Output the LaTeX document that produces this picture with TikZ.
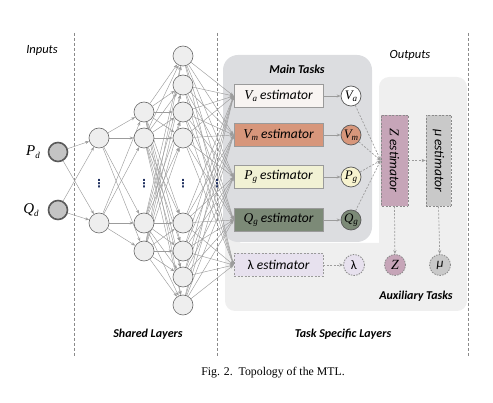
\documentclass[tikz,border=0pt]{standalone}
\usepackage{fontspec}
\setmainfont{Liberation Serif}
\newfontfamily\crl{Carlito}
\newfontfamily\tms{Liberation Serif}
\newfontfamily\djv{DejaVu Sans}
\newcommand\mvar[2]{{\tms\itshape #1}\raisebox{-0.35ex}{\tms\itshape\fontsize{9}{9}\selectfont #2}}
\usetikzlibrary{arrows.meta}
\pgfdeclarelayer{bglayer}
\pgfdeclarelayer{edgelayer}
\pgfsetlayers{bglayer,edgelayer,main}
\definecolor{hidfill}{HTML}{EEEEEE}
\definecolor{hiddraw}{HTML}{6A6A6A}
\definecolor{inpfill}{HTML}{C4C4C4}
\definecolor{inpdraw}{HTML}{5A5A5A}
\definecolor{nngray}{HTML}{9C9C9C}
\definecolor{maingray}{HTML}{DCDDE0}
\definecolor{auxgray}{HTML}{EFEFEF}
\definecolor{estdraw}{HTML}{9A9A9A}
\definecolor{vacol}{HTML}{F8F4F2}
\definecolor{vmcol}{HTML}{D7967B}
\definecolor{pgcol}{HTML}{F1F1D4}
\definecolor{pgcirc}{HTML}{F7F3CF}
\definecolor{qgcol}{HTML}{7C8A77}
\definecolor{zcol}{HTML}{C6A5B8}
\definecolor{mucol}{HTML}{C9C9C9}
\definecolor{lamcol}{HTML}{E7E1EE}
\definecolor{dotcol}{HTML}{1F2F5F}
\definecolor{sepgray}{HTML}{8A8A8A}
\begin{document}
\begin{tikzpicture}[x=1pt,y=-1pt,
  hid/.style={circle,minimum size=20pt,inner sep=0pt,fill=hidfill,draw=hiddraw,line width=0.6pt},
  inp/.style={circle,minimum size=19pt,inner sep=0pt,fill=inpfill,draw=inpdraw,line width=1.6pt},
  est/.style={rectangle,minimum width=89pt,minimum height=23pt,inner sep=0pt,draw=estdraw,line width=0.7pt,font=\fontsize{13.5}{13.5}\selectfont\crl\itshape},
  outc/.style={circle,minimum size=20pt,inner sep=0pt,draw=inpdraw,line width=0.7pt,font=\fontsize{13}{13}\selectfont},
  auxc/.style={circle,minimum size=21pt,inner sep=0pt,draw=sepgray,dashed,dash pattern=on 1.5pt off 1.2pt,line width=0.8pt,font=\fontsize{13}{13}\selectfont\crl\itshape},
  auxest/.style={rectangle,minimum width=91pt,minimum height=27pt,inner sep=0pt,draw=sepgray,dashed,dash pattern=on 2pt off 1.5pt,line width=0.7pt,font=\fontsize{13.5}{13.5}\selectfont\crl\itshape},
  nn/.style={draw=nngray,line width=0.45pt,-{Stealth[length=4pt,width=3pt]}},
  dsh/.style={draw=nngray,line width=0.7pt,dashed,dash pattern=on 2pt off 1.5pt,-{Stealth[length=4pt,width=3.2pt]}},
  sep/.style={draw=sepgray,line width=0.7pt,dashed,dash pattern=on 3pt off 2pt},
  lbl/.style={font=\fontsize{12.5}{12.5}\selectfont\crl\itshape},
  blbl/.style={font=\fontsize{12}{12}\selectfont\crl\bfseries\itshape},
  vd/.style={text=dotcol,inner sep=0pt,font=\fontsize{11}{11}\selectfont\djv\bfseries}
]
\useasboundingbox (0,0) rectangle (493,403);
% background regions
\begin{pgfonlayer}{bglayer}
\fill[auxgray,rounded corners=10pt] (225,225) [sharp corners] -- (240,225) -- (240,243) -- (379,243) [rounded corners=10pt] -- (379,77) -- (467,77) -- (467,311) -- (225,311) -- cycle;
\fill[maingray,rounded corners=15pt] (223,55) rectangle (372,242);
\coordinate (s1t) at (74,33); \coordinate (s1b) at (74,356);
\coordinate (s2t) at (217,33); \coordinate (s2b) at (217,356);
\coordinate (s3t) at (468,33); \coordinate (s3b) at (468,356);
\draw[sep] (s1t) -- (s1b);
\draw[sep] (s2t) -- (s2b);
\draw[sep] (s3t) -- (s3b);
\end{pgfonlayer}
% inputs
\node[inp] (pd) at (58,152) {};
\node[inp] (qd) at (58,210) {};
\node[font=\fontsize{15}{15}\selectfont] (pdl) at (33,152) {\mvar{P}{d}};
\node[font=\fontsize{15}{15}\selectfont] (qdl) at (31,210) {\mvar{Q}{d}};
% hidden layers
\node[hid] (a1) at (99,138) {};
\node[hid] (a2) at (99,223) {};
\node[hid] (b1) at (144,112) {};
\node[hid] (b2) at (144,138) {};
\node[hid] (b3) at (144,223) {};
\node[hid] (b4) at (144,251) {};
\foreach \i/\y in {1/56,2/85,3/112,4/138,5/223,6/251,7/277,8/305}
  \node[hid] (c\i) at (183,\y) {};
\node[vd] (d1) at (99,184) {⋮};
\node[vd] (d2) at (144,184) {⋮};
\node[vd] (d3) at (183,184) {⋮};
\node[vd] (d4) at (217,184) {⋮};
% estimators
\node[est,fill=vacol] (vae) at (278.5,96) {\mvar{V}{a} estimator};
\node[est,fill=vmcol] (vme) at (278.5,135) {\mvar{V}{m} estimator};
\node[est,fill=pgcol] (pge) at (278.5,177) {\mvar{P}{g} estimator};
\node[est,fill=qgcol] (qge) at (278.5,220) {\mvar{Q}{g} estimator};
\node[est,fill=lamcol,dashed,dash pattern=on 2pt off 1.5pt] (lae) at (278.5,265) {\upshape λ\itshape\ estimator};
% connections
\begin{pgfonlayer}{edgelayer}
\foreach \s in {pd,qd} \foreach \t in {a1,a2} \draw[nn] (\s) -- (\t);
\foreach \s in {a1,a2} \foreach \t in {b1,b2,b3,b4} \draw[nn] (\s) -- (\t);
\foreach \s in {b1,b2,b3,b4} \foreach \t in {1,...,8} \draw[nn] (\s) -- (c\t);
\foreach \s in {1,...,8} \foreach \t in {vae,vme,pge,qge,lae} \draw[nn] (c\s) -- (\t.west);
\end{pgfonlayer}
% main outputs
\node[outc,fill=white] (va) at (351,96) {\mvar{V}{a}};
\node[outc,fill=vmcol] (vm) at (351,135) {\mvar{V}{m}};
\node[outc,fill=pgcirc] (pg) at (351,177) {\mvar{P}{g}};
\node[outc,fill=qgcol] (qg) at (351,220) {\mvar{Q}{g}};
\foreach \s/\t in {vae/va,vme/vm,pge/pg,qge/qg} \draw[nn,line width=0.7pt] (\s) -- (\t);
% auxiliary estimators
\node[auxest,fill=zcol,rotate=-90] (zest) at (394.5,160.5) {{\tms Z} estimator};
\node[auxest,fill=mucol,rotate=-90,minimum height=25pt] (muest) at (438.5,160.5) {μ estimator};
\coordinate (zin) at (zest.south);
\begin{pgfonlayer}{edgelayer}
\foreach \s in {va,vm,pg,qg} \draw[dsh] (\s) -- (zin);
\end{pgfonlayer}
\draw[dsh] (zest.north) -- (muest.south);
\node[auxc,fill=lamcol] (lc) at (354,265) {\upshape λ};
\node[auxc,fill=zcol,font=\fontsize{14}{14}\selectfont\tms\itshape] (zc) at (395,265) {Z};
\node[auxc,fill=mucol] (muc) at (440,265) {μ};
\draw[dsh] (lae) -- (lc);
\draw[dsh] (zest.east) -- (zc);
\draw[dsh] (muest.east) -- (muc);
% labels
\node[lbl] (tin) at (42,51) {Inputs};
\node[lbl] (tout) at (410,55) {Outputs};
\node[blbl] (tmain) at (297,69) {Main Tasks};
\node[blbl] (taux) at (416,296) {Auxiliary Tasks};
\node[blbl] (tshared) at (148,334) {Shared Layers};
\node[blbl] (ttask) at (343,334) {Task Specific Layers};
\node[font=\fontsize{11.8}{11.8}\selectfont] (cap) at (273,373) {Fig. 2.\ \ Topology of the MTL.};
\end{tikzpicture}
\end{document}
